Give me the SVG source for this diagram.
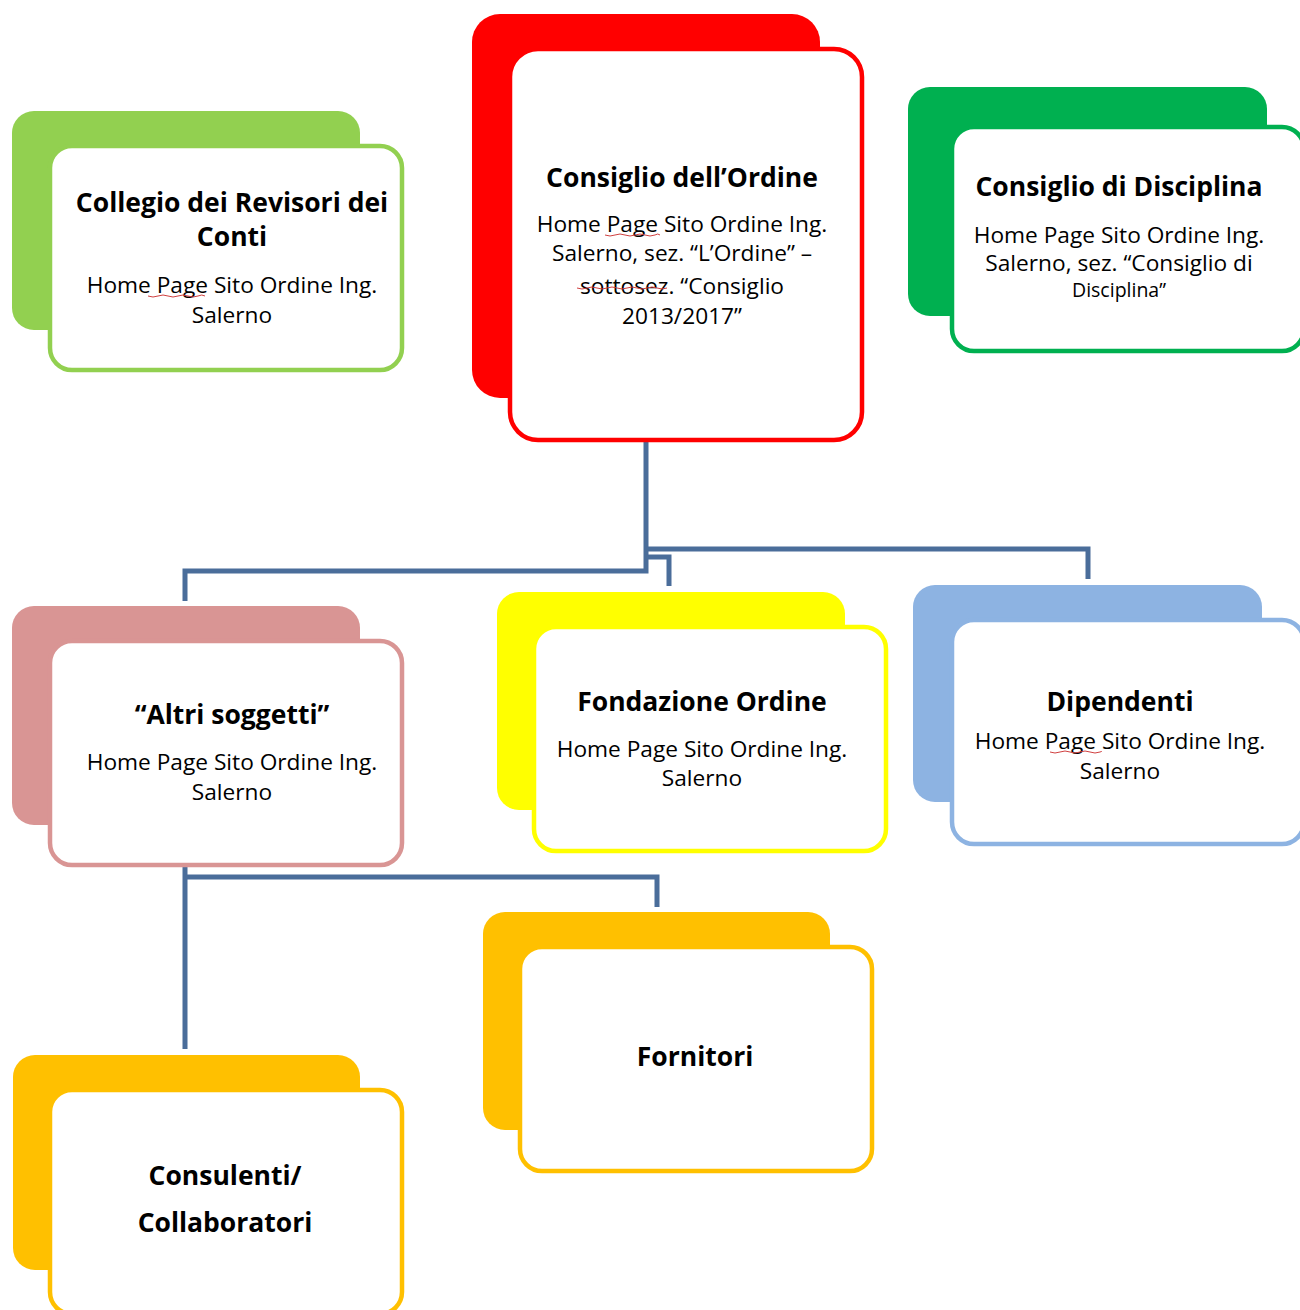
<svg xmlns="http://www.w3.org/2000/svg" width="1300" height="1310" viewBox="0 0 1300 1310">
<style>
.front{fill:#fff;stroke-width:4.5}
.t{font-family:"Open Sans","Liberation Sans",sans-serif;font-weight:bold;font-size:26.5px;fill:#000;text-anchor:middle}
.b{font-family:"Open Sans","Liberation Sans",sans-serif;font-size:22.7px;fill:#000;text-anchor:middle}
.conn{fill:none;stroke:#4A6D9A;stroke-width:5}
.sp{stroke:#D04040;stroke-width:1;fill:none}
</style>
<rect width="1300" height="1310" fill="#fff"/>
<g id="connectors">
<polyline class="conn" points="646,440 646,571 185,571 185,601"/>
<polyline class="conn" points="646,549 1088,549 1088,579"/>
<polyline class="conn" points="646,557 669,557 669,586"/>
<polyline class="conn" points="185,866 185,1049"/>
<polyline class="conn" points="185,877 657,877 657,907"/>
</g>
<g id="collegio">
<rect x="12" y="111" width="348" height="219" rx="22" fill="#92D050"/>
<rect class="front" x="50" y="146" width="352" height="224" rx="22" stroke="#92D050"/>
<text class="t" x="232" y="212">Collegio dei Revisori dei</text>
<text class="t" x="232" y="246">Conti</text>
<text class="b" x="232" y="293">Home Page Sito Ordine Ing.</text>
<text class="b" x="232" y="323">Salerno</text>
<path class="sp" d="M148,296 q5,2 10,0 q5,-2 10,0 q5,2 10,0 q5,-2 10,0 q5,2 10,0 q4,-2 7,0"/>
</g>
<g id="consiglio-ordine">
<rect x="472" y="14" width="348" height="384" rx="28" fill="#FF0000"/>
<rect class="front" x="510" y="49" width="352" height="391" rx="28" stroke="#FF0000"/>
<text class="t" x="682" y="187">Consiglio dell’Ordine</text>
<text class="b" x="682" y="232">Home Page Sito Ordine Ing.</text>
<text class="b" x="682" y="261">Salerno, sez. “L’Ordine” –</text>
<text class="b" x="682" y="294">sottosez. “Consiglio</text>
<text class="b" x="682" y="324">2013/2017”</text>
<path class="sp" d="M605,235 q5,2 10,0 q5,-2 10,0 q5,2 10,0 q5,-2 10,0 q5,2 10,0 q3,-2 5,0"/>
<path class="sp" d="M577,288 q5,2 10,0 q5,-2 10,0 q5,2 10,0 q5,-2 10,0 q5,2 10,0 q5,-2 10,0 q5,2 10,0 q5,-2 10,0 q5,2 10,0"/>
</g>
<g id="consiglio-disciplina">
<rect x="908" y="87" width="359" height="229" rx="22" fill="#00B050"/>
<rect class="front" x="952" y="127" width="352" height="224" rx="22" stroke="#00B050"/>
<text class="t" x="1119" y="196">Consiglio di Disciplina</text>
<text class="b" x="1119" y="243">Home Page Sito Ordine Ing.</text>
<text class="b" x="1119" y="271">Salerno, sez. “Consiglio di</text>
<text class="b" x="1119" y="297" style="font-size:19.5px">Disciplina”</text>
</g>
<g id="altri-soggetti">
<rect x="12" y="606" width="348" height="219" rx="22" fill="#D99594"/>
<rect class="front" x="50" y="641" width="352" height="224" rx="22" stroke="#D99594"/>
<text class="t" x="232" y="724">“Altri soggetti”</text>
<text class="b" x="232" y="770">Home Page Sito Ordine Ing.</text>
<text class="b" x="232" y="800">Salerno</text>
</g>
<g id="fondazione">
<rect x="497" y="592" width="348" height="218" rx="22" fill="#FFFF00"/>
<rect class="front" x="534" y="627" width="352" height="224" rx="22" stroke="#FFFF00"/>
<text class="t" x="702" y="711">Fondazione Ordine</text>
<text class="b" x="702" y="757">Home Page Sito Ordine Ing.</text>
<text class="b" x="702" y="786">Salerno</text>
</g>
<g id="dipendenti">
<rect x="913" y="585" width="349" height="217" rx="22" fill="#8DB3E2"/>
<rect class="front" x="952" y="620" width="352" height="224" rx="22" stroke="#8DB3E2"/>
<text class="t" x="1120" y="711">Dipendenti</text>
<text class="b" x="1120" y="749">Home Page Sito Ordine Ing.</text>
<text class="b" x="1120" y="779">Salerno</text>
<path class="sp" d="M1050,752 q5,2 10,0 q5,-2 10,0 q5,2 10,0 q5,-2 10,0 q5,2 10,0 q2,-1 2,0"/>
</g>
<g id="fornitori">
<rect x="483" y="912" width="347" height="218" rx="22" fill="#FFC000"/>
<rect class="front" x="520" y="947" width="352" height="224" rx="22" stroke="#FFC000"/>
<text class="t" x="695" y="1066">Fornitori</text>
</g>
<g id="consulenti">
<rect x="13" y="1055" width="347" height="215" rx="22" fill="#FFC000"/>
<rect class="front" x="50" y="1090" width="352" height="224" rx="22" stroke="#FFC000"/>
<text class="t" x="225" y="1185">Consulenti/</text>
<text class="t" x="225" y="1232">Collaboratori</text>
</g>
</svg>
